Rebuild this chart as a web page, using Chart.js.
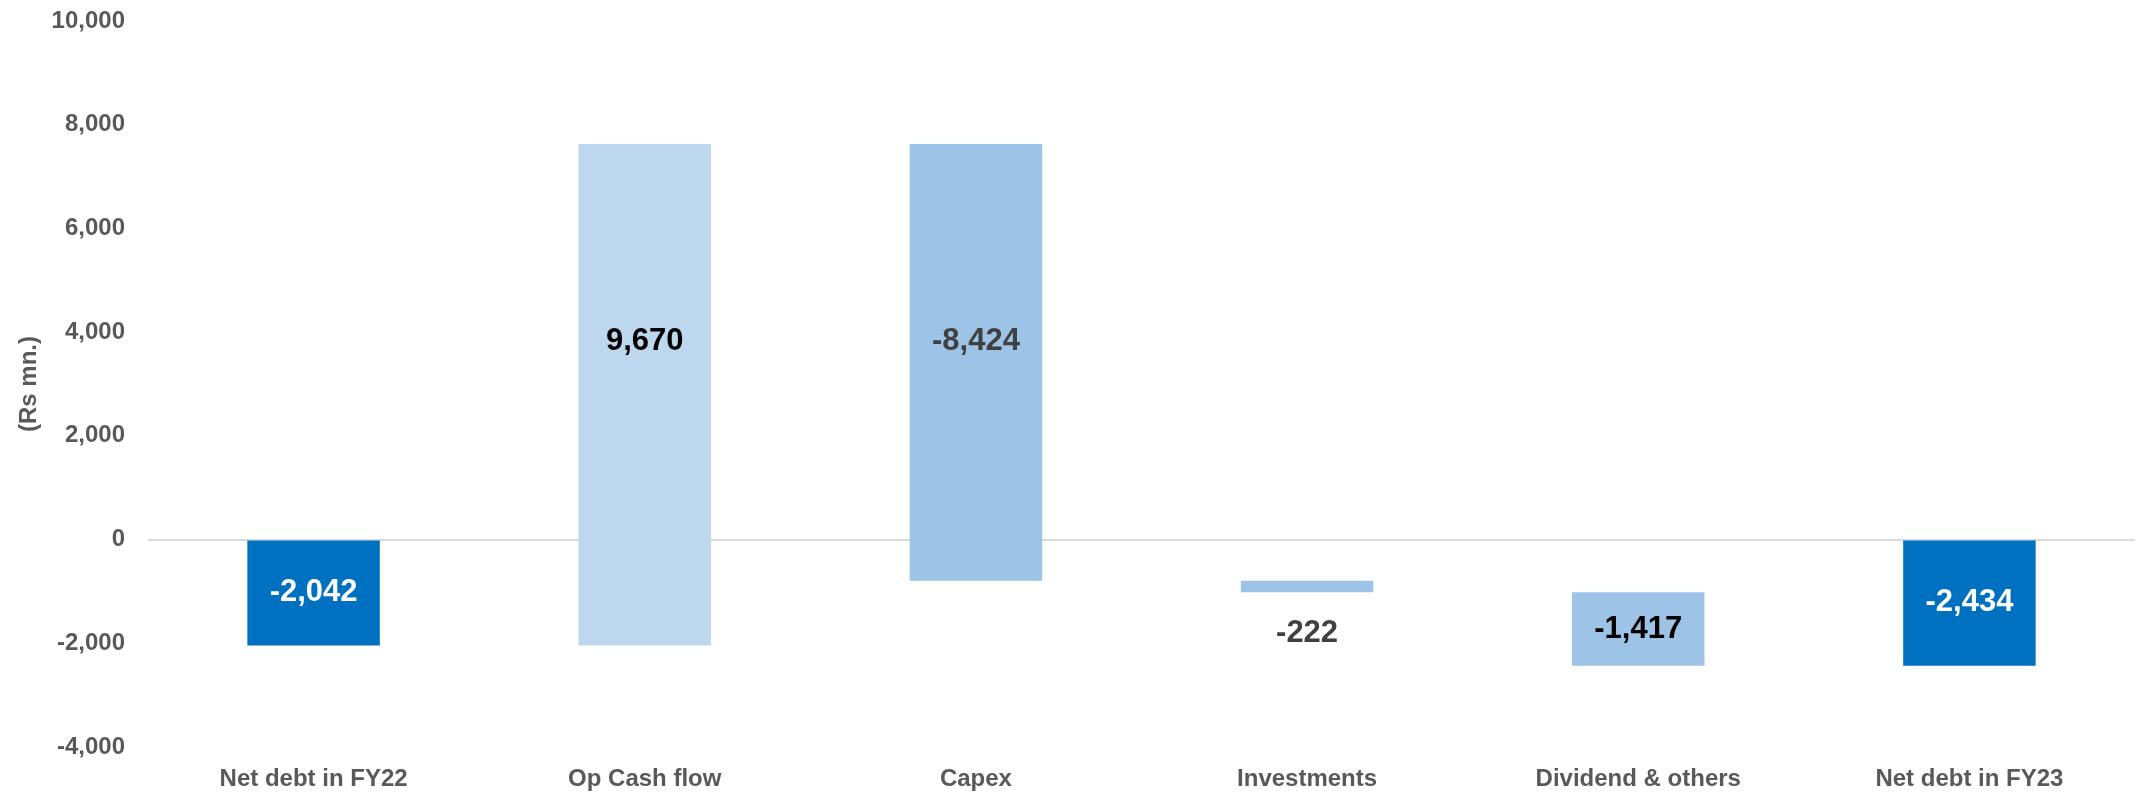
<!DOCTYPE html>
<html>
<head>
<meta charset="utf-8">
<script src="https://cdn.jsdelivr.net/npm/chart.js@4"></script>
<style>
  html, body { margin: 0; padding: 0; background: #fff; }
  #wrap { width: 2136px; height: 794px; }
</style>
</head>
<body>
<div id="wrap"><canvas id="myChart" width="2136" height="794"></canvas></div>
<script>
// bridge data (Rs mn.)
const categories = ['Net debt in FY22', 'Op Cash flow', 'Capex', 'Investments', 'Dividend & others', 'Net debt in FY23'];
const values = [-2042, 9670, -8424, -222, -1417, -2434];
const isTotal = [true, false, false, false, false, true];
const yTicks = [-4000, -2000, 0, 2000, 4000, 6000, 8000, 10000];

const barColors = ['#0070C0', '#BDD7EE', '#9DC3E6', '#9DC3E6', '#9DC3E6', '#0070C0'];
const labelColors = ['#ffffff', '#000000', '#404040', '#404040', '#000000', '#ffffff'];

// build floating [start, end] pairs
let running = 0;
const floating = values.map((v, i) => {
  if (isTotal[i]) { running = v; return [0, v]; }
  const start = running;
  running = running + v;
  return [start, running];
});

const fmt = n => n.toLocaleString('en-US');
const FONT = '"Liberation Sans", Arial, sans-serif';

// value labels, Excel style
const barLabels = {
  id: 'barLabels',
  afterDatasetsDraw(chart) {
    const ctx = chart.ctx;
    const y = chart.scales.y;
    const meta = chart.getDatasetMeta(0);
    ctx.save();
    ctx.font = 'bold 31px ' + FONT;
    ctx.textAlign = 'center';
    ctx.textBaseline = 'middle';
    meta.data.forEach((bar, i) => {
      const [a, b] = floating[i];
      const lo = Math.min(a, b), hi = Math.max(a, b);
      let py;
      if (lo < 0 && hi > 0) py = y.getPixelForValue(hi / 2);
      else py = y.getPixelForValue((lo + hi) / 2);
      const top = y.getPixelForValue(hi), bot = y.getPixelForValue(lo);
      if (bot - top < 40) py = bot + 41;
      ctx.fillStyle = labelColors[i];
      ctx.fillText(fmt(values[i]), bar.x, py);
    });
    ctx.restore();
  }
};

const ctx = document.getElementById('myChart').getContext('2d');
const myChart = new Chart(ctx, {
  type: 'bar',
  data: {
    labels: categories,
    datasets: [{
      data: floating,
      backgroundColor: barColors,
      borderWidth: 0,
      categoryPercentage: 1,
      barPercentage: 0.4
    }]
  },
  options: {
    responsive: false,
    animation: false,
    layout: { padding: { top: 21, right: 1, left: 15, bottom: 0 } },
    plugins: {
      legend: { display: false },
      tooltip: { enabled: false }
    },
    scales: {
      x: {
        grid: { display: false, drawTicks: false },
        border: { display: false },
        ticks: {
          color: '#595959',
          font: { family: FONT, size: 24, weight: 'bold' },
          padding: 18,
          maxRotation: 0
        },
        afterFit(scale) { scale.height = 47; scale.paddingLeft = 0; scale.paddingRight = 0; }
      },
      y: {
        min: -4000,
        max: 10000,
        afterBuildTicks(scale) { scale.ticks = yTicks.map(v => ({ value: v })); },
        grid: {
          drawTicks: false,
          lineWidth: 2,
          color: ctx => ctx.tick && ctx.tick.value === 0 ? '#D9D9D9' : 'rgba(0,0,0,0)'
        },
        border: { display: false },
        ticks: {
          color: '#595959',
          font: { family: FONT, size: 24, weight: 'bold' },
          padding: 23,
          callback: v => fmt(v)
        },
        title: {
          display: true,
          text: '(Rs mn.)',
          color: '#595959',
          font: { family: FONT, size: 24, weight: 'bold' },
          padding: { top: 0, bottom: 0 }
        },
        afterFit(scale) { scale.width = 133; scale.paddingTop = 0; scale.paddingBottom = 0; }
      }
    }
  },
  plugins: [barLabels]
});
</script>
</body>
</html>
